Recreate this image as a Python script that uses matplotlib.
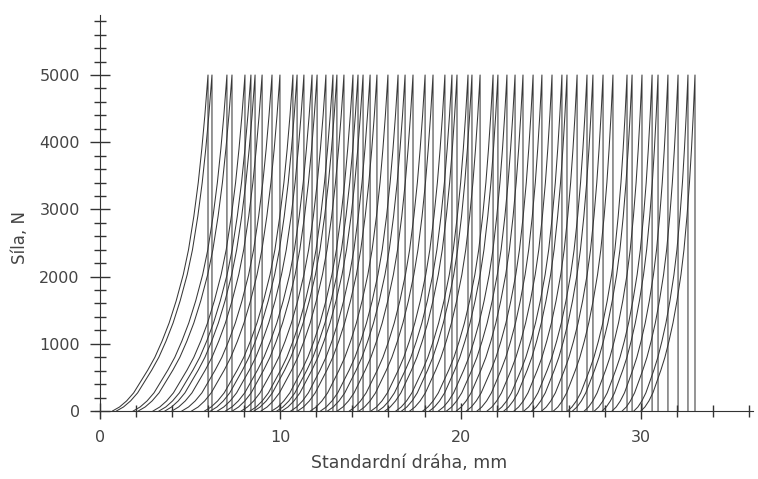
import matplotlib.pyplot as plt
import numpy as np
from matplotlib.ticker import MultipleLocator

# x position (mm) where each loading curve reaches the 5000 N limit
peaks = [5.99, 6.21, 7.04, 7.32, 8.04, 8.37, 8.60, 8.99, 9.54, 9.98,
         10.70, 10.93, 11.31, 11.76, 12.04, 12.53, 12.92, 13.14, 13.53, 14.03,
         14.31, 14.59, 14.98, 15.36, 15.97, 16.53, 16.92, 17.36, 18.03, 18.47,
         19.13, 19.52, 19.80, 20.41, 20.63, 21.08, 21.80, 22.07, 22.57, 23.02,
         23.46, 24.02, 24.51, 25.07, 25.62, 25.90, 26.46, 27.01, 27.34, 27.90,
         28.45, 29.23, 29.51, 30.06, 30.62, 30.95, 31.50, 32.06, 32.61, 33.00]
# length of the loading part of each curve (mm), read roughly
rise = [5.3, 5.3, 5.2, 5.2, 5.1, 5.1, 5.0, 5.0, 5.0, 4.9,
        4.9, 4.8, 4.8, 4.8, 4.7, 4.7, 4.6, 4.6, 4.6, 4.5,
        4.5, 4.5, 4.4, 4.4, 4.3, 4.3, 4.3, 4.2, 4.2, 4.1,
        4.1, 4.1, 4.0, 4.0, 3.9, 3.9, 3.9, 3.8, 3.8, 3.8,
        3.7, 3.7, 3.6, 3.6, 3.6, 3.5, 3.5, 3.5, 3.4, 3.4,
        3.3, 3.3, 3.3, 3.2, 3.2, 3.1, 3.1, 3.1, 3.0, 3.0]
# common curve shape: fraction of the loading length before the peak -> force (N)
shape_u = [1.0, 0.926, 0.852, 0.778, 0.704, 0.630, 0.556, 0.481, 0.407,
           0.333, 0.259, 0.204, 0.148, 0.102, 0.065, 0.033, 0.0]
shape_f = [0, 60, 150, 270, 440, 610, 800, 1040, 1310,
           1640, 2030, 2400, 2900, 3400, 3900, 4400, 5000]

plt.rcParams['font.family'] = ['DejaVu Sans']
fig = plt.figure(figsize=(7.58, 4.79), dpi=100)
ax = fig.add_axes([0.1248, 0.1265, 0.993 - 0.1248, 0.9697 - 0.1265])

u = np.array(shape_u)
for p, r in zip(peaks, rise):
    xs = list(p - r * u) + [p]
    ys = list(shape_f) + [0]
    ax.plot(xs, ys, color='#383838', lw=0.75)

ax.set_xlim(-0.3, 36.2)
ax.set_ylim(-110, 5900)
for s in ['top', 'right']:
    ax.spines[s].set_visible(False)
ax.spines['left'].set_position(('data', 0))
ax.spines['bottom'].set_position(('data', 0))
ax.spines['left'].set_color('#333333')
ax.spines['bottom'].set_color('#333333')

ax.xaxis.set_major_locator(MultipleLocator(10))
ax.xaxis.set_minor_locator(MultipleLocator(2))
ax.yaxis.set_major_locator(MultipleLocator(1000))
ax.yaxis.set_minor_locator(MultipleLocator(200))
ax.set_yticks([0, 1000, 2000, 3000, 4000, 5000])
ax.tick_params(axis='y', which='major', direction='inout', length=15, width=1, color='#333333',
               labelsize=11.5, labelcolor='#444444', pad=7)
ax.tick_params(axis='y', which='minor', direction='inout', length=9, width=1, color='#333333')
ax.tick_params(axis='x', which='major', direction='inout', length=12, width=1, color='#333333',
               labelsize=11.5, labelcolor='#444444', pad=8)
ax.tick_params(axis='x', which='minor', direction='inout', length=9, width=1, color='#333333')
ax.set_xticks([0, 10, 20, 30])

fig.text(0.54, 0.033, 'Standardní dráha, mm', ha='center', va='center', fontsize=12.5, color='#444444')
fig.text(0.027, 0.505, 'Síla, N', ha='center', va='center', rotation=90, fontsize=12, color='#444444')

fig.savefig('out.png', dpi=100)
